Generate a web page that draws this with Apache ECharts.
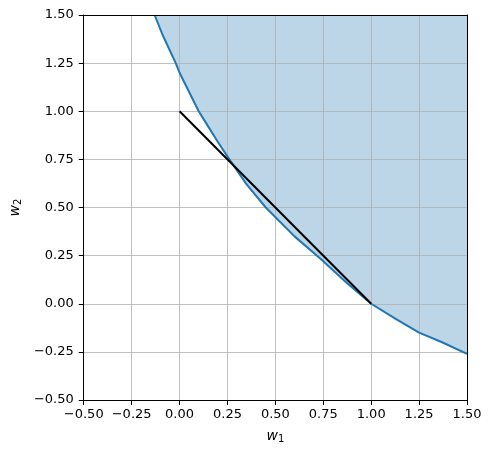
<!DOCTYPE html>
<html>
<head>
<meta charset="utf-8">
<script src="https://cdn.jsdelivr.net/npm/echarts@6/dist/echarts.min.js"></script>
<style>
  html, body { margin: 0; padding: 0; background: #fff; }
  #chart { width: 492px; height: 454px; }
</style>
</head>
<body>
<div id="chart"></div>
<script>
  // boundary curve
  var curveX = [-0.13, -0.09, -0.02, 0.0, 0.05, 0.1, 0.15, 0.2, 0.26, 0.35, 0.45, 0.6, 0.74, 0.87, 1.0, 1.13, 1.25, 1.37, 1.5];
  var curveY = [1.5, 1.4, 1.25, 1.2, 1.1, 1.0, 0.92, 0.84, 0.75, 0.62, 0.5, 0.35, 0.23, 0.11, 0.0, -0.08, -0.15, -0.2, -0.26];
  // straight segment
  var lineX = [0, 1];
  var lineY = [1, 0];

  function pairs(xs, ys) {
    var out = [];
    for (var i = 0; i < xs.length; i++) out.push([xs[i], ys[i]]);
    return out;
  }
  function fmt(v) {
    var s = v.toFixed(2);
    return s.charAt(0) === '-' ? '\u2212' + s.slice(1) : s;
  }

  var font = 'DejaVu Sans';
  var chart = echarts.init(document.getElementById('chart'));

  var gridLine = { show: true, lineStyle: { color: '#b0b0b0', width: 0.8 } };
  var frameLine = { show: true, onZero: false, lineStyle: { color: '#000', width: 1 } };
  var nameRich = {
    i: { fontFamily: font, fontStyle: 'italic', fontSize: 14, color: '#000' },
    s: { fontFamily: font, fontSize: 10, color: '#000', verticalAlign: 'bottom', padding: [6, 0, 0, 0] }
  };

  chart.setOption({
    animation: false,
    grid: { left: 82, right: 25, top: 15, bottom: 54 },
    xAxis: [{
      type: 'value', min: -0.5, max: 1.5, interval: 0.25, z: 3,
      axisLine: frameLine,
      axisTick: { show: true, length: 5, lineStyle: { color: '#000' } },
      axisLabel: { formatter: fmt, fontFamily: font, fontSize: 13, color: '#000', margin: 8 },
      splitLine: gridLine,
      name: '{i|w}{s|1}', nameLocation: 'middle', nameGap: 28,
      nameTextStyle: { rich: nameRich }
    }, {
      type: 'value', position: 'top', min: -0.5, max: 1.5, z: 6,
      axisLine: frameLine, axisTick: { show: false }, axisLabel: { show: false }, splitLine: { show: false }
    }],
    yAxis: [{
      type: 'value', min: -0.5, max: 1.5, interval: 0.25, z: 3,
      axisLine: frameLine,
      axisTick: { show: true, length: 5, lineStyle: { color: '#000' } },
      axisLabel: { formatter: fmt, fontFamily: font, fontSize: 13, color: '#000', margin: 10 },
      splitLine: gridLine,
      name: '{i|w}{s|2}', nameLocation: 'middle', nameGap: 60, nameRotate: 90,
      nameTextStyle: { rich: nameRich }
    }, {
      type: 'value', position: 'right', min: -0.5, max: 1.5, z: 6,
      axisLine: frameLine, axisTick: { show: false }, axisLabel: { show: false }, splitLine: { show: false }
    }],
    series: [{
      // filled region, under the grid
      type: 'line',
      data: pairs(curveX, curveY),
      showSymbol: false,
      lineStyle: { width: 0 },
      areaStyle: { origin: 'end', color: '#bcd6e8', opacity: 1 },
      silent: true,
      z: 1
    }, {
      type: 'line',
      data: pairs(curveX, curveY),
      showSymbol: false,
      lineStyle: { color: '#1f77b4', width: 2 },
      z: 4
    }, {
      type: 'line',
      data: pairs(lineX, lineY),
      showSymbol: false,
      lineStyle: { color: '#000', width: 2 },
      z: 5
    }]
  });
</script>
</body>
</html>
